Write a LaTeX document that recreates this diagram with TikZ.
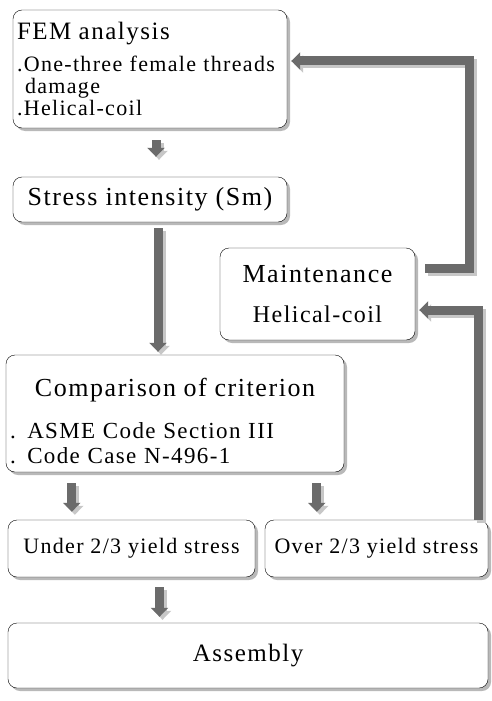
\documentclass[tikz,border=0pt]{standalone}
\usepackage{fontspec}
\setmainfont[LetterSpace=6]{Liberation Serif}
\usepackage{tikz}
\usetikzlibrary{arrows.meta, shadows}

\definecolor{arrowgray}{gray}{0.42}
\definecolor{shadegray}{gray}{0.78}

\begin{document}
\begin{tikzpicture}[
    x=1pt, y=-1pt, line join=miter,
    box/.style={draw, thin, rounded corners=9pt, fill=white, inner sep=4pt,
        drop shadow={shadow xshift=3pt, shadow yshift=-3pt, fill=gray!55, opacity=1}},
    flow/.style={draw=arrowgray, line width=9pt, -{Triangle[width=17pt, length=9pt]},
        preaction={draw=shadegray, line width=9pt, -{Triangle[width=17pt, length=9pt]},
            transform canvas={xshift=3pt, yshift=-3pt}}}
]
    \useasboundingbox (0,0) rectangle (491,701);

    % boxes
    \node[box, minimum width=274pt, minimum height=118pt, text width=266pt, align=left,
        font=\fontsize{22}{22}\selectfont] (fem) at (150,69)
        {{\fontsize{25}{25}\selectfont FEM analysis}\\[10pt]
         .One-three female threads\\
         \hspace*{8pt}damage\\
         .Helical-coil};
    \node[box, minimum width=274pt, minimum height=45pt,
        font=\fontsize{26}{28}\selectfont] (stress) at (150,199.5) {Stress intensity (Sm)};
    \node[box, minimum width=195pt, minimum height=92pt, align=center,
        font=\fontsize{26}{26}\selectfont] (maint) at (317.5,294)
        {Maintenance\\[14pt]{\fontsize{24}{24}\selectfont Helical-coil}};
    \node[box, minimum width=336pt, minimum height=117pt, text width=330pt, align=left,
        font=\fontsize{23}{25}\selectfont] (comp) at (175,413.5)
        {\makebox[\linewidth]{\rule{0pt}{34pt}\fontsize{26}{26}\selectfont Comparison of criterion}\\[17pt]
         . ASME Code Section III\\
         . Code Case N-496-1};
    \node[box, minimum width=247pt, minimum height=57pt,
        font=\fontsize{22}{24}\selectfont] (under) at (131.5,548.5) {Under 2/3 yield stress};
    \node[box, minimum width=223pt, minimum height=57pt, inner sep=2pt,
        font=\fontsize{22}{24}\selectfont] (over) at (376.5,548.5) {Over 2/3 yield stress};
    \node[box, minimum width=480pt, minimum height=65pt,
        font=\fontsize{25}{27}\selectfont] (asm) at (248,655.5) {Assembly};

    \coordinate (fbtop) at (469,61);

    % arrows
    \draw[flow, shorten <=12pt, shorten >=20pt] ([xshift=6pt]fem.south) -- ([xshift=6pt]fem.south |- stress.north);
    \draw[flow, shorten <=6pt, shorten >=3pt] ([xshift=8pt]stress.south) -- ([xshift=8pt]stress.south |- comp.north);
    \draw[flow, shorten <=11pt, shorten >=8pt] ([xshift=64pt]under.north west |- comp.south) -- ([xshift=64pt]under.north west);
    \draw[flow, shorten <=11pt, shorten >=8pt] ([xshift=52pt]over.north west |- comp.south) -- ([xshift=52pt]over.north west);
    \draw[flow, shorten <=10pt, shorten >=6pt] ([xshift=28pt]under.south) -- ([xshift=28pt]under.south |- asm.north);
    \draw[flow, shorten <=10pt, shorten >=4pt] ([yshift=26pt]maint.east) -| (fbtop) -- ([yshift=8pt]fem.east);
    \draw[flow, shorten >=4pt] ([xshift=-10pt]over.north east) |- ([yshift=-16pt]maint.east);
\end{tikzpicture}
\end{document}
